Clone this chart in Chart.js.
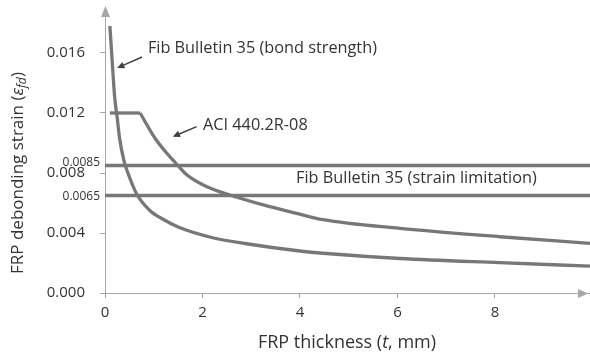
<!DOCTYPE html>
<html>
<head>
<meta charset="utf-8">
<script src="https://cdn.jsdelivr.net/npm/chart.js@4.4.1/dist/chart.umd.min.js"></script>
<style>
  html,body{margin:0;padding:0;background:#fff;}
  #wrap{width:590px;height:357px;}
</style>
</head>
<body>
<div id="wrap"><canvas id="c" width="590" height="357"></canvas></div>
<script>
// FRP thickness t (mm) and debonding strain
const tBond   = [0.1, 0.137, 0.2, 0.25, 0.3, 0.39, 0.47, 0.65, 0.92, 1.2, 1.5, 2.19, 2.87, 4.0, 4.68, 6.05, 8.1, 9.95];
const epsBond = [0.0178, 0.0160, 0.0130, 0.0117, 0.0103, 0.0088, 0.0080, 0.0066, 0.0055, 0.0049, 0.0044, 0.0037, 0.0033, 0.0028, 0.0026, 0.0023, 0.00202, 0.00179];

const tAci   = [0.1, 0.72, 1.03, 1.30, 1.44, 1.67, 2.08, 2.56, 3.25, 3.93, 4.47, 6.05, 8.1, 9.95];
const epsAci = [0.012, 0.012, 0.0103, 0.0092, 0.0087, 0.0079, 0.0071, 0.00653, 0.00587, 0.00531, 0.00489, 0.00431, 0.00375, 0.00331];
const ACI_CORNER = 1; // index where the plateau ends

const strainLimits = [0.0085, 0.0065];
const limitLabels  = ['0.0085', '0.0065'];

const xTicks = [0, 2, 4, 6, 8];
const yTicks = [0, 0.004, 0.008, 0.012, 0.016];
const X_MAX = 9.95, Y_MAX = 0.019;

const LINE = '#777777', AXIS = '#a6a6a6', TXT = '#333333';
const FONT = '"Open Sans", sans-serif';

function pts(xs, ys){ return xs.map((x,i)=>({x, y:ys[i]})); }
const aciPts = pts(tAci, epsAci);

const datasets = [
  {data:pts(tBond, epsBond), cubicInterpolationMode:'monotone'},
  {data:aciPts.slice(0, ACI_CORNER+1)},
  {data:aciPts.slice(ACI_CORNER), cubicInterpolationMode:'monotone'},
  ...strainLimits.map(v=>({data:[{x:0,y:v},{x:X_MAX,y:v}]}))
].map(d=>Object.assign({borderColor:LINE, borderWidth:3.3, pointRadius:0, fill:false, borderJoinStyle:'round'}, d));

// rich text pieces: [text, italic, subscript]
function drawRich(ctx, parts, size){
  let w = 0;
  const fnt = p => `${p[1]?'italic ':''}${p[2]?size*0.72:size}px ${FONT}`;
  parts.forEach(p=>{ ctx.font=fnt(p); w+=ctx.measureText(p[0]).width; });
  let x = -w/2;
  parts.forEach(p=>{
    ctx.font=fnt(p);
    ctx.fillText(p[0], x, p[2]? size*0.25 : 0);
    x += ctx.measureText(p[0]).width;
  });
}

function arrow(ctx, x1, y1, x2, y2, color, head, width){
  const a = Math.atan2(y2-y1, x2-x1);
  ctx.strokeStyle = color; ctx.fillStyle = color; ctx.lineWidth = width;
  ctx.beginPath(); ctx.moveTo(x1,y1);
  ctx.lineTo(x2 - Math.cos(a)*head*0.8, y2 - Math.sin(a)*head*0.8); ctx.stroke();
  ctx.beginPath(); ctx.moveTo(x2,y2);
  ctx.lineTo(x2 - head*Math.cos(a-0.45), y2 - head*Math.sin(a-0.45));
  ctx.lineTo(x2 - head*Math.cos(a+0.45), y2 - head*Math.sin(a+0.45));
  ctx.closePath(); ctx.fill();
}

const decor = {
  id:'decor',
  afterDraw(chart){
    const {ctx, chartArea:ca, scales:{x, y}} = chart;
    ctx.save();
    // axis arrowheads
    ctx.fillStyle = AXIS;
    ctx.beginPath(); ctx.moveTo(ca.left+0.5, ca.top-2); ctx.lineTo(ca.left-4, ca.top+9); ctx.lineTo(ca.left+5, ca.top+9); ctx.closePath(); ctx.fill();
    ctx.beginPath(); ctx.moveTo(ca.right-2, ca.bottom+0.5); ctx.lineTo(ca.right-12, ca.bottom-4); ctx.lineTo(ca.right-12, ca.bottom+5); ctx.closePath(); ctx.fill();

    // strain limit labels
    ctx.fillStyle = TXT; ctx.font = `12px ${FONT}`; ctx.textAlign='right'; ctx.textBaseline='middle';
    ctx.fillText(limitLabels[0], ca.left-5, y.getPixelForValue(strainLimits[0])-3);
    ctx.fillText(limitLabels[1], ca.left-5, y.getPixelForValue(strainLimits[1])+1);

    // annotations
    ctx.font = `16.3px ${FONT}`; ctx.textAlign='left';
    ctx.fillText('Fib Bulletin 35 (bond strength)', x.getPixelForValue(0.88), y.getPixelForValue(0.01633));
    ctx.fillText('ACI 440.2R-08', x.getPixelForValue(2.01), y.getPixelForValue(0.0112));
    ctx.fillText('Fib Bulletin 35 (strain limitation)', x.getPixelForValue(3.92), y.getPixelForValue(0.00767));
    arrow(ctx, x.getPixelForValue(0.76), y.getPixelForValue(0.01573), x.getPixelForValue(0.25), y.getPixelForValue(0.0150), '#404040', 8, 1.5);
    arrow(ctx, x.getPixelForValue(1.88), y.getPixelForValue(0.01109), x.getPixelForValue(1.39), y.getPixelForValue(0.01042), '#404040', 8, 1.5);

    // axis titles
    ctx.textAlign='left'; ctx.textBaseline='middle'; ctx.fillStyle = TXT;
    ctx.save(); ctx.translate((ca.left+ca.right)/2 - 0.5, 343);
    drawRich(ctx, [['FRP thickness (',0,0],['t',1,0],[', mm)',0,0]], 18);
    ctx.restore();
    ctx.save(); ctx.translate(18, 173); ctx.rotate(-Math.PI/2);
    drawRich(ctx, [['FRP debonding strain (',0,0],['ε',1,0],['fd',1,1],[')',0,0]], 17);
    ctx.restore();
    ctx.restore();
  }
};

new Chart(document.getElementById('c').getContext('2d'), {
  type:'line',
  data:{datasets},
  plugins:[decor],
  options:{
    responsive:false, animation:false,
    layout:{padding:{top:8, right:0, left:0, bottom:0}},
    plugins:{legend:{display:false}, tooltip:{enabled:false}},
    scales:{
      x:{
        type:'linear', min:0, max:X_MAX,
        afterFit(s){ s.height = 64; s.paddingLeft = 0; s.paddingRight = 0; },
        afterBuildTicks(s){ s.ticks = xTicks.map(v=>({value:v})); },
        grid:{drawOnChartArea:false, drawTicks:true, tickLength:5, color:AXIS},
        border:{color:AXIS, width:1},
        ticks:{color:TXT, font:{family:FONT, size:15}, padding:6, maxRotation:0, callback:v=>String(v)}
      },
      y:{
        type:'linear', min:0, max:Y_MAX,
        afterFit(s){ s.width = 105; s.paddingTop = 0; s.paddingBottom = 0; },
        afterBuildTicks(s){ s.ticks = yTicks.map(v=>({value:v})); },
        grid:{drawOnChartArea:false, drawTicks:true, tickLength:5, color:AXIS},
        border:{color:AXIS, width:1},
        ticks:{color:TXT, font:{family:FONT, size:15}, padding:15, callback:v=>Number(v).toFixed(3)}
      }
    }
  }
});
</script>
</body>
</html>
